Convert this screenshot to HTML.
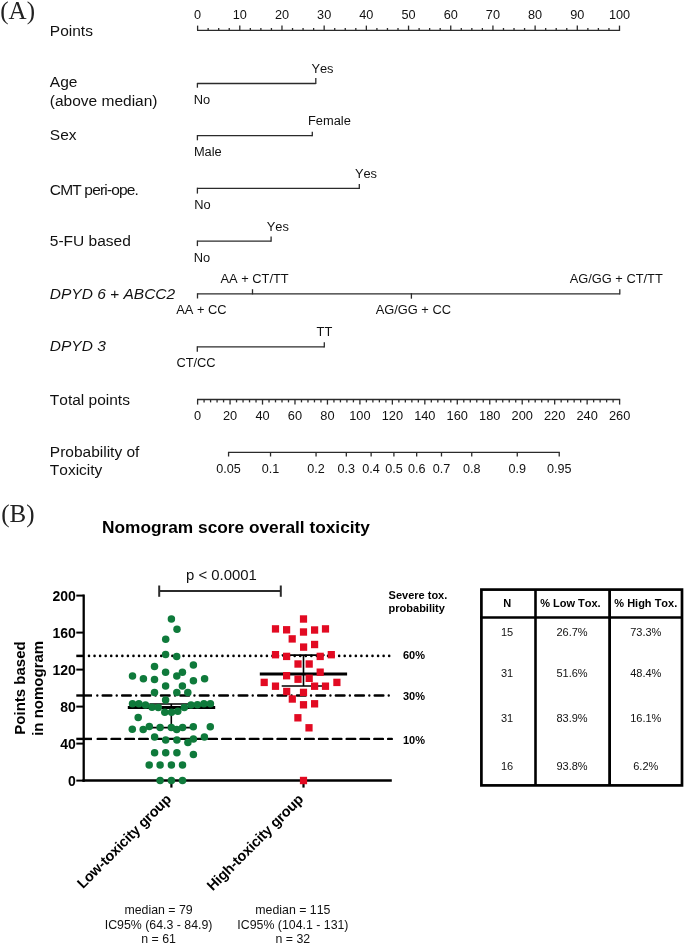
<!DOCTYPE html>
<html><head><meta charset="utf-8"><title>Nomogram</title>
<style>html,body{margin:0;padding:0;background:#fff;} svg{display:block;will-change:transform;} text{font-kerning:none;}</style></head>
<body><svg width="685" height="945" viewBox="0 0 685 945">
<rect width="685" height="945" fill="#fff"/>
<text x="0.30" y="18.70" font-family="Liberation Serif, serif" font-size="25" font-weight="normal" font-style="normal" text-anchor="start" fill="#222" >(A)</text>
<text x="49.80" y="35.90" font-family="Liberation Sans, sans-serif" font-size="15.5" font-weight="normal" font-style="normal" text-anchor="start" fill="#111" >Points</text>
<text x="49.80" y="87.30" font-family="Liberation Sans, sans-serif" font-size="15.5" font-weight="normal" font-style="normal" text-anchor="start" fill="#111" >Age</text>
<text x="49.80" y="105.60" font-family="Liberation Sans, sans-serif" font-size="15.5" font-weight="normal" font-style="normal" text-anchor="start" fill="#111" >(above median)</text>
<text x="49.80" y="139.90" font-family="Liberation Sans, sans-serif" font-size="15.5" font-weight="normal" font-style="normal" text-anchor="start" fill="#111" >Sex</text>
<text x="49.80" y="194.60" font-family="Liberation Sans, sans-serif" font-size="15.5" font-weight="normal" font-style="normal" text-anchor="start" fill="#111" letter-spacing="-0.83">CMT peri-ope.</text>
<text x="49.80" y="246.00" font-family="Liberation Sans, sans-serif" font-size="15.5" font-weight="normal" font-style="normal" text-anchor="start" fill="#111" >5-FU based</text>
<text x="49.80" y="298.60" font-family="Liberation Sans, sans-serif" font-size="15.5" font-weight="normal" font-style="italic" text-anchor="start" fill="#111" >DPYD 6 + ABCC2</text>
<text x="49.80" y="351.10" font-family="Liberation Sans, sans-serif" font-size="15.5" font-weight="normal" font-style="italic" text-anchor="start" fill="#111" >DPYD 3</text>
<text x="49.80" y="405.00" font-family="Liberation Sans, sans-serif" font-size="15.5" font-weight="normal" font-style="normal" text-anchor="start" fill="#111" >Total points</text>
<text x="49.80" y="456.60" font-family="Liberation Sans, sans-serif" font-size="15.5" font-weight="normal" font-style="normal" text-anchor="start" fill="#111" >Probability of</text>
<text x="49.80" y="475.10" font-family="Liberation Sans, sans-serif" font-size="15.5" font-weight="normal" font-style="normal" text-anchor="start" fill="#111" >Toxicity</text>
<line x1="197.00" y1="30.40" x2="620.10" y2="30.40" stroke="#2b2b2b" stroke-width="1.3" />
<line x1="197.60" y1="30.40" x2="197.60" y2="25.60" stroke="#2b2b2b" stroke-width="1.3" />
<text x="197.60" y="19.30" font-family="Liberation Sans, sans-serif" font-size="12.7" font-weight="normal" font-style="normal" text-anchor="middle" fill="#111" >0</text>
<line x1="208.15" y1="30.40" x2="208.15" y2="28.00" stroke="#2b2b2b" stroke-width="1.3" />
<line x1="218.69" y1="30.40" x2="218.69" y2="28.00" stroke="#2b2b2b" stroke-width="1.3" />
<line x1="229.24" y1="30.40" x2="229.24" y2="28.00" stroke="#2b2b2b" stroke-width="1.3" />
<line x1="239.79" y1="30.40" x2="239.79" y2="25.60" stroke="#2b2b2b" stroke-width="1.3" />
<text x="239.79" y="19.30" font-family="Liberation Sans, sans-serif" font-size="12.7" font-weight="normal" font-style="normal" text-anchor="middle" fill="#111" >10</text>
<line x1="250.34" y1="30.40" x2="250.34" y2="28.00" stroke="#2b2b2b" stroke-width="1.3" />
<line x1="260.88" y1="30.40" x2="260.88" y2="28.00" stroke="#2b2b2b" stroke-width="1.3" />
<line x1="271.43" y1="30.40" x2="271.43" y2="28.00" stroke="#2b2b2b" stroke-width="1.3" />
<line x1="281.98" y1="30.40" x2="281.98" y2="25.60" stroke="#2b2b2b" stroke-width="1.3" />
<text x="281.98" y="19.30" font-family="Liberation Sans, sans-serif" font-size="12.7" font-weight="normal" font-style="normal" text-anchor="middle" fill="#111" >20</text>
<line x1="292.53" y1="30.40" x2="292.53" y2="28.00" stroke="#2b2b2b" stroke-width="1.3" />
<line x1="303.07" y1="30.40" x2="303.07" y2="28.00" stroke="#2b2b2b" stroke-width="1.3" />
<line x1="313.62" y1="30.40" x2="313.62" y2="28.00" stroke="#2b2b2b" stroke-width="1.3" />
<line x1="324.17" y1="30.40" x2="324.17" y2="25.60" stroke="#2b2b2b" stroke-width="1.3" />
<text x="324.17" y="19.30" font-family="Liberation Sans, sans-serif" font-size="12.7" font-weight="normal" font-style="normal" text-anchor="middle" fill="#111" >30</text>
<line x1="334.72" y1="30.40" x2="334.72" y2="28.00" stroke="#2b2b2b" stroke-width="1.3" />
<line x1="345.26" y1="30.40" x2="345.26" y2="28.00" stroke="#2b2b2b" stroke-width="1.3" />
<line x1="355.81" y1="30.40" x2="355.81" y2="28.00" stroke="#2b2b2b" stroke-width="1.3" />
<line x1="366.36" y1="30.40" x2="366.36" y2="25.60" stroke="#2b2b2b" stroke-width="1.3" />
<text x="366.36" y="19.30" font-family="Liberation Sans, sans-serif" font-size="12.7" font-weight="normal" font-style="normal" text-anchor="middle" fill="#111" >40</text>
<line x1="376.91" y1="30.40" x2="376.91" y2="28.00" stroke="#2b2b2b" stroke-width="1.3" />
<line x1="387.45" y1="30.40" x2="387.45" y2="28.00" stroke="#2b2b2b" stroke-width="1.3" />
<line x1="398.00" y1="30.40" x2="398.00" y2="28.00" stroke="#2b2b2b" stroke-width="1.3" />
<line x1="408.55" y1="30.40" x2="408.55" y2="25.60" stroke="#2b2b2b" stroke-width="1.3" />
<text x="408.55" y="19.30" font-family="Liberation Sans, sans-serif" font-size="12.7" font-weight="normal" font-style="normal" text-anchor="middle" fill="#111" >50</text>
<line x1="419.10" y1="30.40" x2="419.10" y2="28.00" stroke="#2b2b2b" stroke-width="1.3" />
<line x1="429.64" y1="30.40" x2="429.64" y2="28.00" stroke="#2b2b2b" stroke-width="1.3" />
<line x1="440.19" y1="30.40" x2="440.19" y2="28.00" stroke="#2b2b2b" stroke-width="1.3" />
<line x1="450.74" y1="30.40" x2="450.74" y2="25.60" stroke="#2b2b2b" stroke-width="1.3" />
<text x="450.74" y="19.30" font-family="Liberation Sans, sans-serif" font-size="12.7" font-weight="normal" font-style="normal" text-anchor="middle" fill="#111" >60</text>
<line x1="461.29" y1="30.40" x2="461.29" y2="28.00" stroke="#2b2b2b" stroke-width="1.3" />
<line x1="471.84" y1="30.40" x2="471.84" y2="28.00" stroke="#2b2b2b" stroke-width="1.3" />
<line x1="482.38" y1="30.40" x2="482.38" y2="28.00" stroke="#2b2b2b" stroke-width="1.3" />
<line x1="492.93" y1="30.40" x2="492.93" y2="25.60" stroke="#2b2b2b" stroke-width="1.3" />
<text x="492.93" y="19.30" font-family="Liberation Sans, sans-serif" font-size="12.7" font-weight="normal" font-style="normal" text-anchor="middle" fill="#111" >70</text>
<line x1="503.48" y1="30.40" x2="503.48" y2="28.00" stroke="#2b2b2b" stroke-width="1.3" />
<line x1="514.02" y1="30.40" x2="514.02" y2="28.00" stroke="#2b2b2b" stroke-width="1.3" />
<line x1="524.57" y1="30.40" x2="524.57" y2="28.00" stroke="#2b2b2b" stroke-width="1.3" />
<line x1="535.12" y1="30.40" x2="535.12" y2="25.60" stroke="#2b2b2b" stroke-width="1.3" />
<text x="535.12" y="19.30" font-family="Liberation Sans, sans-serif" font-size="12.7" font-weight="normal" font-style="normal" text-anchor="middle" fill="#111" >80</text>
<line x1="545.67" y1="30.40" x2="545.67" y2="28.00" stroke="#2b2b2b" stroke-width="1.3" />
<line x1="556.22" y1="30.40" x2="556.22" y2="28.00" stroke="#2b2b2b" stroke-width="1.3" />
<line x1="566.76" y1="30.40" x2="566.76" y2="28.00" stroke="#2b2b2b" stroke-width="1.3" />
<line x1="577.31" y1="30.40" x2="577.31" y2="25.60" stroke="#2b2b2b" stroke-width="1.3" />
<text x="577.31" y="19.30" font-family="Liberation Sans, sans-serif" font-size="12.7" font-weight="normal" font-style="normal" text-anchor="middle" fill="#111" >90</text>
<line x1="587.86" y1="30.40" x2="587.86" y2="28.00" stroke="#2b2b2b" stroke-width="1.3" />
<line x1="598.40" y1="30.40" x2="598.40" y2="28.00" stroke="#2b2b2b" stroke-width="1.3" />
<line x1="608.95" y1="30.40" x2="608.95" y2="28.00" stroke="#2b2b2b" stroke-width="1.3" />
<line x1="619.50" y1="30.40" x2="619.50" y2="25.60" stroke="#2b2b2b" stroke-width="1.3" />
<text x="619.50" y="19.30" font-family="Liberation Sans, sans-serif" font-size="12.7" font-weight="normal" font-style="normal" text-anchor="middle" fill="#111" >100</text>
<line x1="197.40" y1="83.50" x2="315.80" y2="83.50" stroke="#2b2b2b" stroke-width="1.3" />
<line x1="197.40" y1="82.90" x2="197.40" y2="87.70" stroke="#2b2b2b" stroke-width="1.3" />
<line x1="315.80" y1="84.10" x2="315.80" y2="77.90" stroke="#2b2b2b" stroke-width="1.3" />
<text x="311.40" y="72.50" font-family="Liberation Sans, sans-serif" font-size="12.85" font-weight="normal" font-style="normal" text-anchor="start" fill="#111" >Yes</text>
<text x="193.80" y="103.60" font-family="Liberation Sans, sans-serif" font-size="12.85" font-weight="normal" font-style="normal" text-anchor="start" fill="#111" >No</text>
<line x1="197.40" y1="135.60" x2="312.30" y2="135.60" stroke="#2b2b2b" stroke-width="1.3" />
<line x1="197.40" y1="135.00" x2="197.40" y2="140.30" stroke="#2b2b2b" stroke-width="1.3" />
<line x1="312.30" y1="136.20" x2="312.30" y2="131.80" stroke="#2b2b2b" stroke-width="1.3" />
<text x="308.00" y="124.90" font-family="Liberation Sans, sans-serif" font-size="12.85" font-weight="normal" font-style="normal" text-anchor="start" fill="#111" >Female</text>
<text x="193.90" y="156.40" font-family="Liberation Sans, sans-serif" font-size="12.85" font-weight="normal" font-style="normal" text-anchor="start" fill="#111" >Male</text>
<line x1="197.40" y1="188.30" x2="359.30" y2="188.30" stroke="#2b2b2b" stroke-width="1.3" />
<line x1="197.40" y1="187.70" x2="197.40" y2="193.60" stroke="#2b2b2b" stroke-width="1.3" />
<line x1="359.30" y1="188.90" x2="359.30" y2="183.90" stroke="#2b2b2b" stroke-width="1.3" />
<text x="354.90" y="178.10" font-family="Liberation Sans, sans-serif" font-size="12.85" font-weight="normal" font-style="normal" text-anchor="start" fill="#111" >Yes</text>
<text x="194.20" y="209.00" font-family="Liberation Sans, sans-serif" font-size="12.85" font-weight="normal" font-style="normal" text-anchor="start" fill="#111" >No</text>
<line x1="197.40" y1="241.10" x2="271.10" y2="241.10" stroke="#2b2b2b" stroke-width="1.3" />
<line x1="197.40" y1="240.50" x2="197.40" y2="246.10" stroke="#2b2b2b" stroke-width="1.3" />
<line x1="271.10" y1="241.70" x2="271.10" y2="236.50" stroke="#2b2b2b" stroke-width="1.3" />
<text x="266.70" y="230.50" font-family="Liberation Sans, sans-serif" font-size="12.85" font-weight="normal" font-style="normal" text-anchor="start" fill="#111" >Yes</text>
<text x="193.70" y="261.50" font-family="Liberation Sans, sans-serif" font-size="12.85" font-weight="normal" font-style="normal" text-anchor="start" fill="#111" >No</text>
<line x1="197.50" y1="293.80" x2="619.80" y2="293.80" stroke="#2b2b2b" stroke-width="1.3" />
<line x1="197.50" y1="293.20" x2="197.50" y2="298.50" stroke="#2b2b2b" stroke-width="1.3" />
<line x1="252.50" y1="294.40" x2="252.50" y2="289.20" stroke="#2b2b2b" stroke-width="1.3" />
<line x1="411.40" y1="293.20" x2="411.40" y2="298.70" stroke="#2b2b2b" stroke-width="1.3" />
<line x1="619.80" y1="294.40" x2="619.80" y2="289.20" stroke="#2b2b2b" stroke-width="1.3" />
<text x="220.50" y="283.00" font-family="Liberation Sans, sans-serif" font-size="12.85" font-weight="normal" font-style="normal" text-anchor="start" fill="#111" >AA + CT/TT</text>
<text x="176.20" y="314.30" font-family="Liberation Sans, sans-serif" font-size="12.85" font-weight="normal" font-style="normal" text-anchor="start" fill="#111" >AA + CC</text>
<text x="375.70" y="314.20" font-family="Liberation Sans, sans-serif" font-size="12.85" font-weight="normal" font-style="normal" text-anchor="start" fill="#111" >AG/GG + CC</text>
<text x="569.70" y="282.90" font-family="Liberation Sans, sans-serif" font-size="12.85" font-weight="normal" font-style="normal" text-anchor="start" fill="#111" >AG/GG + CT/TT</text>
<line x1="197.30" y1="346.80" x2="324.30" y2="346.80" stroke="#2b2b2b" stroke-width="1.3" />
<line x1="197.30" y1="346.20" x2="197.30" y2="351.70" stroke="#2b2b2b" stroke-width="1.3" />
<line x1="324.30" y1="347.40" x2="324.30" y2="342.30" stroke="#2b2b2b" stroke-width="1.3" />
<text x="316.60" y="335.60" font-family="Liberation Sans, sans-serif" font-size="12.85" font-weight="normal" font-style="normal" text-anchor="start" fill="#111" >TT</text>
<text x="176.40" y="367.10" font-family="Liberation Sans, sans-serif" font-size="12.85" font-weight="normal" font-style="normal" text-anchor="start" fill="#111" >CT/CC</text>
<line x1="197.00" y1="399.50" x2="620.20" y2="399.50" stroke="#2b2b2b" stroke-width="1.3" />
<line x1="197.60" y1="399.50" x2="197.60" y2="404.60" stroke="#2b2b2b" stroke-width="1.3" />
<text x="197.60" y="420.00" font-family="Liberation Sans, sans-serif" font-size="12.8" font-weight="normal" font-style="normal" text-anchor="middle" fill="#111" >0</text>
<line x1="204.09" y1="399.50" x2="204.09" y2="402.40" stroke="#2b2b2b" stroke-width="1.3" />
<line x1="210.58" y1="399.50" x2="210.58" y2="402.40" stroke="#2b2b2b" stroke-width="1.3" />
<line x1="217.08" y1="399.50" x2="217.08" y2="402.40" stroke="#2b2b2b" stroke-width="1.3" />
<line x1="223.57" y1="399.50" x2="223.57" y2="402.40" stroke="#2b2b2b" stroke-width="1.3" />
<line x1="230.06" y1="399.50" x2="230.06" y2="404.60" stroke="#2b2b2b" stroke-width="1.3" />
<text x="230.06" y="420.00" font-family="Liberation Sans, sans-serif" font-size="12.8" font-weight="normal" font-style="normal" text-anchor="middle" fill="#111" >20</text>
<line x1="236.55" y1="399.50" x2="236.55" y2="402.40" stroke="#2b2b2b" stroke-width="1.3" />
<line x1="243.05" y1="399.50" x2="243.05" y2="402.40" stroke="#2b2b2b" stroke-width="1.3" />
<line x1="249.54" y1="399.50" x2="249.54" y2="402.40" stroke="#2b2b2b" stroke-width="1.3" />
<line x1="256.03" y1="399.50" x2="256.03" y2="402.40" stroke="#2b2b2b" stroke-width="1.3" />
<line x1="262.52" y1="399.50" x2="262.52" y2="404.60" stroke="#2b2b2b" stroke-width="1.3" />
<text x="262.52" y="420.00" font-family="Liberation Sans, sans-serif" font-size="12.8" font-weight="normal" font-style="normal" text-anchor="middle" fill="#111" >40</text>
<line x1="269.02" y1="399.50" x2="269.02" y2="402.40" stroke="#2b2b2b" stroke-width="1.3" />
<line x1="275.51" y1="399.50" x2="275.51" y2="402.40" stroke="#2b2b2b" stroke-width="1.3" />
<line x1="282.00" y1="399.50" x2="282.00" y2="402.40" stroke="#2b2b2b" stroke-width="1.3" />
<line x1="288.49" y1="399.50" x2="288.49" y2="402.40" stroke="#2b2b2b" stroke-width="1.3" />
<line x1="294.98" y1="399.50" x2="294.98" y2="404.60" stroke="#2b2b2b" stroke-width="1.3" />
<text x="294.98" y="420.00" font-family="Liberation Sans, sans-serif" font-size="12.8" font-weight="normal" font-style="normal" text-anchor="middle" fill="#111" >60</text>
<line x1="301.48" y1="399.50" x2="301.48" y2="402.40" stroke="#2b2b2b" stroke-width="1.3" />
<line x1="307.97" y1="399.50" x2="307.97" y2="402.40" stroke="#2b2b2b" stroke-width="1.3" />
<line x1="314.46" y1="399.50" x2="314.46" y2="402.40" stroke="#2b2b2b" stroke-width="1.3" />
<line x1="320.95" y1="399.50" x2="320.95" y2="402.40" stroke="#2b2b2b" stroke-width="1.3" />
<line x1="327.45" y1="399.50" x2="327.45" y2="404.60" stroke="#2b2b2b" stroke-width="1.3" />
<text x="327.45" y="420.00" font-family="Liberation Sans, sans-serif" font-size="12.8" font-weight="normal" font-style="normal" text-anchor="middle" fill="#111" >80</text>
<line x1="333.94" y1="399.50" x2="333.94" y2="402.40" stroke="#2b2b2b" stroke-width="1.3" />
<line x1="340.43" y1="399.50" x2="340.43" y2="402.40" stroke="#2b2b2b" stroke-width="1.3" />
<line x1="346.92" y1="399.50" x2="346.92" y2="402.40" stroke="#2b2b2b" stroke-width="1.3" />
<line x1="353.42" y1="399.50" x2="353.42" y2="402.40" stroke="#2b2b2b" stroke-width="1.3" />
<line x1="359.91" y1="399.50" x2="359.91" y2="404.60" stroke="#2b2b2b" stroke-width="1.3" />
<text x="359.91" y="420.00" font-family="Liberation Sans, sans-serif" font-size="12.8" font-weight="normal" font-style="normal" text-anchor="middle" fill="#111" >100</text>
<line x1="366.40" y1="399.50" x2="366.40" y2="402.40" stroke="#2b2b2b" stroke-width="1.3" />
<line x1="372.89" y1="399.50" x2="372.89" y2="402.40" stroke="#2b2b2b" stroke-width="1.3" />
<line x1="379.38" y1="399.50" x2="379.38" y2="402.40" stroke="#2b2b2b" stroke-width="1.3" />
<line x1="385.88" y1="399.50" x2="385.88" y2="402.40" stroke="#2b2b2b" stroke-width="1.3" />
<line x1="392.37" y1="399.50" x2="392.37" y2="404.60" stroke="#2b2b2b" stroke-width="1.3" />
<text x="392.37" y="420.00" font-family="Liberation Sans, sans-serif" font-size="12.8" font-weight="normal" font-style="normal" text-anchor="middle" fill="#111" >120</text>
<line x1="398.86" y1="399.50" x2="398.86" y2="402.40" stroke="#2b2b2b" stroke-width="1.3" />
<line x1="405.35" y1="399.50" x2="405.35" y2="402.40" stroke="#2b2b2b" stroke-width="1.3" />
<line x1="411.85" y1="399.50" x2="411.85" y2="402.40" stroke="#2b2b2b" stroke-width="1.3" />
<line x1="418.34" y1="399.50" x2="418.34" y2="402.40" stroke="#2b2b2b" stroke-width="1.3" />
<line x1="424.83" y1="399.50" x2="424.83" y2="404.60" stroke="#2b2b2b" stroke-width="1.3" />
<text x="424.83" y="420.00" font-family="Liberation Sans, sans-serif" font-size="12.8" font-weight="normal" font-style="normal" text-anchor="middle" fill="#111" >140</text>
<line x1="431.32" y1="399.50" x2="431.32" y2="402.40" stroke="#2b2b2b" stroke-width="1.3" />
<line x1="437.82" y1="399.50" x2="437.82" y2="402.40" stroke="#2b2b2b" stroke-width="1.3" />
<line x1="444.31" y1="399.50" x2="444.31" y2="402.40" stroke="#2b2b2b" stroke-width="1.3" />
<line x1="450.80" y1="399.50" x2="450.80" y2="402.40" stroke="#2b2b2b" stroke-width="1.3" />
<line x1="457.29" y1="399.50" x2="457.29" y2="404.60" stroke="#2b2b2b" stroke-width="1.3" />
<text x="457.29" y="420.00" font-family="Liberation Sans, sans-serif" font-size="12.8" font-weight="normal" font-style="normal" text-anchor="middle" fill="#111" >160</text>
<line x1="463.78" y1="399.50" x2="463.78" y2="402.40" stroke="#2b2b2b" stroke-width="1.3" />
<line x1="470.28" y1="399.50" x2="470.28" y2="402.40" stroke="#2b2b2b" stroke-width="1.3" />
<line x1="476.77" y1="399.50" x2="476.77" y2="402.40" stroke="#2b2b2b" stroke-width="1.3" />
<line x1="483.26" y1="399.50" x2="483.26" y2="402.40" stroke="#2b2b2b" stroke-width="1.3" />
<line x1="489.75" y1="399.50" x2="489.75" y2="404.60" stroke="#2b2b2b" stroke-width="1.3" />
<text x="489.75" y="420.00" font-family="Liberation Sans, sans-serif" font-size="12.8" font-weight="normal" font-style="normal" text-anchor="middle" fill="#111" >180</text>
<line x1="496.25" y1="399.50" x2="496.25" y2="402.40" stroke="#2b2b2b" stroke-width="1.3" />
<line x1="502.74" y1="399.50" x2="502.74" y2="402.40" stroke="#2b2b2b" stroke-width="1.3" />
<line x1="509.23" y1="399.50" x2="509.23" y2="402.40" stroke="#2b2b2b" stroke-width="1.3" />
<line x1="515.72" y1="399.50" x2="515.72" y2="402.40" stroke="#2b2b2b" stroke-width="1.3" />
<line x1="522.22" y1="399.50" x2="522.22" y2="404.60" stroke="#2b2b2b" stroke-width="1.3" />
<text x="522.22" y="420.00" font-family="Liberation Sans, sans-serif" font-size="12.8" font-weight="normal" font-style="normal" text-anchor="middle" fill="#111" >200</text>
<line x1="528.71" y1="399.50" x2="528.71" y2="402.40" stroke="#2b2b2b" stroke-width="1.3" />
<line x1="535.20" y1="399.50" x2="535.20" y2="402.40" stroke="#2b2b2b" stroke-width="1.3" />
<line x1="541.69" y1="399.50" x2="541.69" y2="402.40" stroke="#2b2b2b" stroke-width="1.3" />
<line x1="548.18" y1="399.50" x2="548.18" y2="402.40" stroke="#2b2b2b" stroke-width="1.3" />
<line x1="554.68" y1="399.50" x2="554.68" y2="404.60" stroke="#2b2b2b" stroke-width="1.3" />
<text x="554.68" y="420.00" font-family="Liberation Sans, sans-serif" font-size="12.8" font-weight="normal" font-style="normal" text-anchor="middle" fill="#111" >220</text>
<line x1="561.17" y1="399.50" x2="561.17" y2="402.40" stroke="#2b2b2b" stroke-width="1.3" />
<line x1="567.66" y1="399.50" x2="567.66" y2="402.40" stroke="#2b2b2b" stroke-width="1.3" />
<line x1="574.15" y1="399.50" x2="574.15" y2="402.40" stroke="#2b2b2b" stroke-width="1.3" />
<line x1="580.65" y1="399.50" x2="580.65" y2="402.40" stroke="#2b2b2b" stroke-width="1.3" />
<line x1="587.14" y1="399.50" x2="587.14" y2="404.60" stroke="#2b2b2b" stroke-width="1.3" />
<text x="587.14" y="420.00" font-family="Liberation Sans, sans-serif" font-size="12.8" font-weight="normal" font-style="normal" text-anchor="middle" fill="#111" >240</text>
<line x1="593.63" y1="399.50" x2="593.63" y2="402.40" stroke="#2b2b2b" stroke-width="1.3" />
<line x1="600.12" y1="399.50" x2="600.12" y2="402.40" stroke="#2b2b2b" stroke-width="1.3" />
<line x1="606.62" y1="399.50" x2="606.62" y2="402.40" stroke="#2b2b2b" stroke-width="1.3" />
<line x1="613.11" y1="399.50" x2="613.11" y2="402.40" stroke="#2b2b2b" stroke-width="1.3" />
<line x1="619.60" y1="399.50" x2="619.60" y2="404.60" stroke="#2b2b2b" stroke-width="1.3" />
<text x="619.60" y="420.00" font-family="Liberation Sans, sans-serif" font-size="12.8" font-weight="normal" font-style="normal" text-anchor="middle" fill="#111" >260</text>
<line x1="227.97" y1="452.30" x2="559.83" y2="452.30" stroke="#2b2b2b" stroke-width="1.3" />
<line x1="228.57" y1="452.30" x2="228.57" y2="456.50" stroke="#2b2b2b" stroke-width="1.3" />
<text x="228.57" y="473.20" font-family="Liberation Sans, sans-serif" font-size="12.6" font-weight="normal" font-style="normal" text-anchor="middle" fill="#111" >0.05</text>
<line x1="270.53" y1="452.30" x2="270.53" y2="456.50" stroke="#2b2b2b" stroke-width="1.3" />
<text x="270.53" y="473.20" font-family="Liberation Sans, sans-serif" font-size="12.6" font-weight="normal" font-style="normal" text-anchor="middle" fill="#111" >0.1</text>
<line x1="316.06" y1="452.30" x2="316.06" y2="456.50" stroke="#2b2b2b" stroke-width="1.3" />
<text x="316.06" y="473.20" font-family="Liberation Sans, sans-serif" font-size="12.6" font-weight="normal" font-style="normal" text-anchor="middle" fill="#111" >0.2</text>
<line x1="346.32" y1="452.30" x2="346.32" y2="456.50" stroke="#2b2b2b" stroke-width="1.3" />
<text x="346.32" y="473.20" font-family="Liberation Sans, sans-serif" font-size="12.6" font-weight="normal" font-style="normal" text-anchor="middle" fill="#111" >0.3</text>
<line x1="371.13" y1="452.30" x2="371.13" y2="456.50" stroke="#2b2b2b" stroke-width="1.3" />
<text x="371.13" y="473.20" font-family="Liberation Sans, sans-serif" font-size="12.6" font-weight="normal" font-style="normal" text-anchor="middle" fill="#111" >0.4</text>
<line x1="393.90" y1="452.30" x2="393.90" y2="456.50" stroke="#2b2b2b" stroke-width="1.3" />
<text x="393.90" y="473.20" font-family="Liberation Sans, sans-serif" font-size="12.6" font-weight="normal" font-style="normal" text-anchor="middle" fill="#111" >0.5</text>
<line x1="416.67" y1="452.30" x2="416.67" y2="456.50" stroke="#2b2b2b" stroke-width="1.3" />
<text x="416.67" y="473.20" font-family="Liberation Sans, sans-serif" font-size="12.6" font-weight="normal" font-style="normal" text-anchor="middle" fill="#111" >0.6</text>
<line x1="441.48" y1="452.30" x2="441.48" y2="456.50" stroke="#2b2b2b" stroke-width="1.3" />
<text x="441.48" y="473.20" font-family="Liberation Sans, sans-serif" font-size="12.6" font-weight="normal" font-style="normal" text-anchor="middle" fill="#111" >0.7</text>
<line x1="471.74" y1="452.30" x2="471.74" y2="456.50" stroke="#2b2b2b" stroke-width="1.3" />
<text x="471.74" y="473.20" font-family="Liberation Sans, sans-serif" font-size="12.6" font-weight="normal" font-style="normal" text-anchor="middle" fill="#111" >0.8</text>
<line x1="517.27" y1="452.30" x2="517.27" y2="456.50" stroke="#2b2b2b" stroke-width="1.3" />
<text x="517.27" y="473.20" font-family="Liberation Sans, sans-serif" font-size="12.6" font-weight="normal" font-style="normal" text-anchor="middle" fill="#111" >0.9</text>
<line x1="559.23" y1="452.30" x2="559.23" y2="456.50" stroke="#2b2b2b" stroke-width="1.3" />
<text x="559.23" y="473.20" font-family="Liberation Sans, sans-serif" font-size="12.6" font-weight="normal" font-style="normal" text-anchor="middle" fill="#111" >0.95</text>
<text x="1.20" y="521.70" font-family="Liberation Serif, serif" font-size="25" font-weight="normal" font-style="normal" text-anchor="start" fill="#222" >(B)</text>
<text x="102.00" y="533.00" font-family="Liberation Sans, sans-serif" font-size="17.3" font-weight="bold" font-style="normal" text-anchor="start" fill="#000" >Nomogram score overall toxicity</text>
<text x="186.00" y="579.80" font-family="Liberation Sans, sans-serif" font-size="14.9" font-weight="normal" font-style="normal" text-anchor="start" fill="#111" >p &lt; 0.0001</text>
<line x1="159.20" y1="591.10" x2="280.80" y2="591.10" stroke="#2b2b2b" stroke-width="2" />
<line x1="159.20" y1="585.50" x2="159.20" y2="596.80" stroke="#2b2b2b" stroke-width="2" />
<line x1="280.80" y1="585.50" x2="280.80" y2="596.80" stroke="#2b2b2b" stroke-width="2" />
<line x1="76.30" y1="655.90" x2="83.50" y2="655.90" stroke="#000" stroke-width="2.5" />
<line x1="89.00" y1="655.90" x2="389.30" y2="655.90" stroke="#000" stroke-width="2.6" stroke-dasharray="0 5.559" stroke-linecap="round"/>
<line x1="76.30" y1="695.50" x2="92.00" y2="695.50" stroke="#000" stroke-width="2.4" />
<line x1="97.30" y1="695.50" x2="388.80" y2="695.50" stroke="#000" stroke-width="2.4" stroke-dasharray="0 5.36 8.7 5.37" stroke-linecap="round"/>
<line x1="76.30" y1="738.90" x2="92.00" y2="738.90" stroke="#000" stroke-width="2.4" />
<line x1="97.70" y1="738.90" x2="391.80" y2="738.90" stroke="#000" stroke-width="2.4" stroke-dasharray="8.6 5.23" stroke-linecap="round"/>
<line x1="83.70" y1="594.50" x2="83.70" y2="781.80" stroke="#000" stroke-width="2.3" />
<line x1="82.50" y1="780.50" x2="391.80" y2="780.50" stroke="#000" stroke-width="2.5" />
<line x1="76.30" y1="780.60" x2="83.70" y2="780.60" stroke="#000" stroke-width="2" />
<text x="75.80" y="785.60" font-family="Liberation Sans, sans-serif" font-size="14" font-weight="bold" font-style="normal" text-anchor="end" fill="#000" >0</text>
<line x1="76.30" y1="743.60" x2="83.70" y2="743.60" stroke="#000" stroke-width="2" />
<text x="75.80" y="748.60" font-family="Liberation Sans, sans-serif" font-size="14" font-weight="bold" font-style="normal" text-anchor="end" fill="#000" >40</text>
<line x1="76.30" y1="706.60" x2="83.70" y2="706.60" stroke="#000" stroke-width="2" />
<text x="75.80" y="711.60" font-family="Liberation Sans, sans-serif" font-size="14" font-weight="bold" font-style="normal" text-anchor="end" fill="#000" >80</text>
<line x1="76.30" y1="669.60" x2="83.70" y2="669.60" stroke="#000" stroke-width="2" />
<text x="75.80" y="674.60" font-family="Liberation Sans, sans-serif" font-size="14" font-weight="bold" font-style="normal" text-anchor="end" fill="#000" >120</text>
<line x1="76.30" y1="632.60" x2="83.70" y2="632.60" stroke="#000" stroke-width="2" />
<text x="75.80" y="637.60" font-family="Liberation Sans, sans-serif" font-size="14" font-weight="bold" font-style="normal" text-anchor="end" fill="#000" >160</text>
<line x1="76.30" y1="595.60" x2="83.70" y2="595.60" stroke="#000" stroke-width="2" />
<text x="75.80" y="600.60" font-family="Liberation Sans, sans-serif" font-size="14" font-weight="bold" font-style="normal" text-anchor="end" fill="#000" >200</text>
<line x1="171.40" y1="780.50" x2="171.40" y2="787.60" stroke="#000" stroke-width="2.2" />
<line x1="303.50" y1="780.50" x2="303.50" y2="787.60" stroke="#000" stroke-width="2.2" />
<text transform="translate(25.0,688.0) rotate(-90)" font-family="Liberation Sans, sans-serif" font-size="15" font-weight="bold" text-anchor="middle" fill="#000">Points based</text>
<text transform="translate(43.1,688.3) rotate(-90)" font-family="Liberation Sans, sans-serif" font-size="15" font-weight="bold" text-anchor="middle" fill="#000">in nomogram</text>
<text x="388.60" y="599.10" font-family="Liberation Sans, sans-serif" font-size="11" font-weight="bold" font-style="normal" text-anchor="start" fill="#000" >Severe tox.</text>
<text x="388.60" y="612.40" font-family="Liberation Sans, sans-serif" font-size="11" font-weight="bold" font-style="normal" text-anchor="start" fill="#000" >probability</text>
<text x="403.00" y="659.10" font-family="Liberation Sans, sans-serif" font-size="11" font-weight="bold" font-style="normal" text-anchor="start" fill="#000" >60%</text>
<text x="403.00" y="699.70" font-family="Liberation Sans, sans-serif" font-size="11" font-weight="bold" font-style="normal" text-anchor="start" fill="#000" >30%</text>
<text x="403.00" y="743.90" font-family="Liberation Sans, sans-serif" font-size="11" font-weight="bold" font-style="normal" text-anchor="start" fill="#000" >10%</text>
<line x1="171.30" y1="704.00" x2="171.30" y2="727.60" stroke="#000" stroke-width="1.6" />
<line x1="149.30" y1="704.00" x2="190.20" y2="704.00" stroke="#000" stroke-width="1.6" />
<line x1="149.30" y1="727.60" x2="190.20" y2="727.60" stroke="#000" stroke-width="1.6" />
<line x1="127.80" y1="707.50" x2="215.20" y2="707.50" stroke="#000" stroke-width="3.0" />
<line x1="303.50" y1="655.10" x2="303.50" y2="686.00" stroke="#000" stroke-width="1.6" />
<line x1="281.70" y1="655.10" x2="324.60" y2="655.10" stroke="#000" stroke-width="1.6" />
<line x1="281.70" y1="686.00" x2="324.60" y2="686.00" stroke="#000" stroke-width="1.6" />
<line x1="259.80" y1="674.10" x2="347.10" y2="674.10" stroke="#000" stroke-width="3.0" />
<circle cx="171.40" cy="619.00" r="3.75" fill="#0f7a3b"/>
<circle cx="177.00" cy="629.20" r="3.75" fill="#0f7a3b"/>
<circle cx="165.70" cy="639.20" r="3.75" fill="#0f7a3b"/>
<circle cx="165.60" cy="654.60" r="3.75" fill="#0f7a3b"/>
<circle cx="176.70" cy="656.50" r="3.75" fill="#0f7a3b"/>
<circle cx="154.50" cy="666.60" r="3.75" fill="#0f7a3b"/>
<circle cx="193.40" cy="664.90" r="3.75" fill="#0f7a3b"/>
<circle cx="165.60" cy="672.30" r="3.75" fill="#0f7a3b"/>
<circle cx="182.40" cy="672.30" r="3.75" fill="#0f7a3b"/>
<circle cx="176.80" cy="676.10" r="3.75" fill="#0f7a3b"/>
<circle cx="132.50" cy="676.10" r="3.75" fill="#0f7a3b"/>
<circle cx="143.40" cy="678.70" r="3.75" fill="#0f7a3b"/>
<circle cx="154.50" cy="679.60" r="3.75" fill="#0f7a3b"/>
<circle cx="193.40" cy="680.70" r="3.75" fill="#0f7a3b"/>
<circle cx="204.60" cy="678.70" r="3.75" fill="#0f7a3b"/>
<circle cx="165.60" cy="686.00" r="3.75" fill="#0f7a3b"/>
<circle cx="182.40" cy="686.00" r="3.75" fill="#0f7a3b"/>
<circle cx="154.50" cy="692.60" r="3.75" fill="#0f7a3b"/>
<circle cx="176.80" cy="692.60" r="3.75" fill="#0f7a3b"/>
<circle cx="187.80" cy="692.60" r="3.75" fill="#0f7a3b"/>
<circle cx="165.60" cy="700.10" r="3.75" fill="#0f7a3b"/>
<circle cx="132.50" cy="703.70" r="3.75" fill="#0f7a3b"/>
<circle cx="138.90" cy="703.70" r="3.75" fill="#0f7a3b"/>
<circle cx="145.50" cy="705.00" r="3.75" fill="#0f7a3b"/>
<circle cx="152.00" cy="707.30" r="3.75" fill="#0f7a3b"/>
<circle cx="158.30" cy="707.60" r="3.75" fill="#0f7a3b"/>
<circle cx="164.80" cy="712.20" r="3.75" fill="#0f7a3b"/>
<circle cx="171.50" cy="712.20" r="3.75" fill="#0f7a3b"/>
<circle cx="177.80" cy="711.30" r="3.75" fill="#0f7a3b"/>
<circle cx="184.30" cy="707.50" r="3.75" fill="#0f7a3b"/>
<circle cx="191.00" cy="705.00" r="3.75" fill="#0f7a3b"/>
<circle cx="197.40" cy="704.80" r="3.75" fill="#0f7a3b"/>
<circle cx="203.90" cy="703.70" r="3.75" fill="#0f7a3b"/>
<circle cx="210.40" cy="703.70" r="3.75" fill="#0f7a3b"/>
<circle cx="138.20" cy="717.50" r="3.75" fill="#0f7a3b"/>
<circle cx="132.30" cy="729.20" r="3.75" fill="#0f7a3b"/>
<circle cx="143.20" cy="729.60" r="3.75" fill="#0f7a3b"/>
<circle cx="149.30" cy="726.60" r="3.75" fill="#0f7a3b"/>
<circle cx="160.10" cy="727.60" r="3.75" fill="#0f7a3b"/>
<circle cx="171.30" cy="727.60" r="3.75" fill="#0f7a3b"/>
<circle cx="176.70" cy="729.60" r="3.75" fill="#0f7a3b"/>
<circle cx="182.60" cy="727.60" r="3.75" fill="#0f7a3b"/>
<circle cx="193.30" cy="726.70" r="3.75" fill="#0f7a3b"/>
<circle cx="210.30" cy="726.70" r="3.75" fill="#0f7a3b"/>
<circle cx="154.60" cy="737.00" r="3.75" fill="#0f7a3b"/>
<circle cx="165.70" cy="739.90" r="3.75" fill="#0f7a3b"/>
<circle cx="176.90" cy="739.90" r="3.75" fill="#0f7a3b"/>
<circle cx="187.90" cy="742.60" r="3.75" fill="#0f7a3b"/>
<circle cx="193.40" cy="738.90" r="3.75" fill="#0f7a3b"/>
<circle cx="204.40" cy="737.00" r="3.75" fill="#0f7a3b"/>
<circle cx="154.60" cy="752.80" r="3.75" fill="#0f7a3b"/>
<circle cx="165.70" cy="752.80" r="3.75" fill="#0f7a3b"/>
<circle cx="176.90" cy="752.80" r="3.75" fill="#0f7a3b"/>
<circle cx="193.40" cy="754.50" r="3.75" fill="#0f7a3b"/>
<circle cx="149.20" cy="764.90" r="3.75" fill="#0f7a3b"/>
<circle cx="160.10" cy="764.90" r="3.75" fill="#0f7a3b"/>
<circle cx="171.40" cy="764.90" r="3.75" fill="#0f7a3b"/>
<circle cx="182.50" cy="764.90" r="3.75" fill="#0f7a3b"/>
<circle cx="160.10" cy="780.50" r="3.75" fill="#0f7a3b"/>
<circle cx="171.40" cy="780.50" r="3.75" fill="#0f7a3b"/>
<circle cx="182.50" cy="780.50" r="3.75" fill="#0f7a3b"/>
<rect x="299.90" y="615.30" width="7.2" height="7.4" fill="#e20a22"/>
<rect x="271.90" y="625.20" width="7.2" height="7.4" fill="#e20a22"/>
<rect x="283.00" y="626.10" width="7.2" height="7.4" fill="#e20a22"/>
<rect x="299.90" y="628.30" width="7.2" height="7.4" fill="#e20a22"/>
<rect x="311.00" y="626.30" width="7.2" height="7.4" fill="#e20a22"/>
<rect x="321.90" y="625.20" width="7.2" height="7.4" fill="#e20a22"/>
<rect x="288.60" y="635.20" width="7.2" height="7.4" fill="#e20a22"/>
<rect x="300.00" y="643.40" width="7.2" height="7.4" fill="#e20a22"/>
<rect x="311.00" y="640.80" width="7.2" height="7.4" fill="#e20a22"/>
<rect x="271.90" y="651.00" width="7.2" height="7.4" fill="#e20a22"/>
<rect x="283.00" y="652.70" width="7.2" height="7.4" fill="#e20a22"/>
<rect x="316.60" y="652.70" width="7.2" height="7.4" fill="#e20a22"/>
<rect x="327.70" y="651.00" width="7.2" height="7.4" fill="#e20a22"/>
<rect x="294.40" y="660.30" width="7.2" height="7.4" fill="#e20a22"/>
<rect x="305.60" y="660.30" width="7.2" height="7.4" fill="#e20a22"/>
<rect x="316.60" y="668.50" width="7.2" height="7.4" fill="#e20a22"/>
<rect x="283.00" y="672.00" width="7.2" height="7.4" fill="#e20a22"/>
<rect x="294.40" y="675.50" width="7.2" height="7.4" fill="#e20a22"/>
<rect x="305.60" y="674.60" width="7.2" height="7.4" fill="#e20a22"/>
<rect x="260.60" y="678.70" width="7.2" height="7.4" fill="#e20a22"/>
<rect x="271.90" y="682.50" width="7.2" height="7.4" fill="#e20a22"/>
<rect x="311.00" y="682.50" width="7.2" height="7.4" fill="#e20a22"/>
<rect x="321.90" y="682.50" width="7.2" height="7.4" fill="#e20a22"/>
<rect x="333.30" y="678.70" width="7.2" height="7.4" fill="#e20a22"/>
<rect x="283.10" y="687.80" width="7.2" height="7.4" fill="#e20a22"/>
<rect x="299.90" y="688.70" width="7.2" height="7.4" fill="#e20a22"/>
<rect x="288.70" y="695.30" width="7.2" height="7.4" fill="#e20a22"/>
<rect x="299.90" y="701.10" width="7.2" height="7.4" fill="#e20a22"/>
<rect x="311.00" y="700.10" width="7.2" height="7.4" fill="#e20a22"/>
<rect x="294.30" y="714.10" width="7.2" height="7.4" fill="#e20a22"/>
<rect x="305.40" y="724.10" width="7.2" height="7.4" fill="#e20a22"/>
<rect x="299.90" y="776.80" width="7.2" height="7.4" fill="#e20a22"/>
<text transform="translate(172.0,800.2) rotate(-45)" font-family="Liberation Sans, sans-serif" font-size="14.4" letter-spacing="-0.15" font-weight="bold" text-anchor="end" fill="#000">Low-toxicity group</text>
<text transform="translate(304.1,800.2) rotate(-45)" font-family="Liberation Sans, sans-serif" font-size="14.4" letter-spacing="-0.15" font-weight="bold" text-anchor="end" fill="#000">High-toxicity group</text>
<text x="158.60" y="913.60" font-family="Liberation Sans, sans-serif" font-size="12.35" font-weight="normal" font-style="normal" text-anchor="middle" fill="#111" >median = 79</text>
<text x="158.60" y="928.90" font-family="Liberation Sans, sans-serif" font-size="12.35" font-weight="normal" font-style="normal" text-anchor="middle" fill="#111" >IC95% (64.3 - 84.9)</text>
<text x="158.60" y="942.70" font-family="Liberation Sans, sans-serif" font-size="12.35" font-weight="normal" font-style="normal" text-anchor="middle" fill="#111" >n = 61</text>
<text x="292.90" y="913.60" font-family="Liberation Sans, sans-serif" font-size="12.35" font-weight="normal" font-style="normal" text-anchor="middle" fill="#111" >median = 115</text>
<text x="292.90" y="928.90" font-family="Liberation Sans, sans-serif" font-size="12.35" font-weight="normal" font-style="normal" text-anchor="middle" fill="#111" >IC95% (104.1 - 131)</text>
<text x="292.90" y="942.70" font-family="Liberation Sans, sans-serif" font-size="12.35" font-weight="normal" font-style="normal" text-anchor="middle" fill="#111" >n = 32</text>
<rect x="481.40" y="589.60" width="200.60" height="195.80" fill="none" stroke="#000" stroke-width="2.7"/>
<line x1="535.50" y1="589.60" x2="535.50" y2="785.40" stroke="#000" stroke-width="2.6" />
<line x1="609.60" y1="589.60" x2="609.60" y2="785.40" stroke="#000" stroke-width="2.8" />
<line x1="480.00" y1="617.50" x2="682.00" y2="617.50" stroke="#000" stroke-width="2.5" />
<text x="507.20" y="607.00" font-family="Liberation Sans, sans-serif" font-size="11" font-weight="bold" font-style="normal" text-anchor="middle" fill="#000" >N</text>
<text x="570.40" y="607.00" font-family="Liberation Sans, sans-serif" font-size="11" font-weight="bold" font-style="normal" text-anchor="middle" fill="#000" >% Low Tox.</text>
<text x="645.80" y="607.00" font-family="Liberation Sans, sans-serif" font-size="11" font-weight="bold" font-style="normal" text-anchor="middle" fill="#000" >% High Tox.</text>
<text x="507.00" y="636.10" font-family="Liberation Sans, sans-serif" font-size="11" font-weight="normal" font-style="normal" text-anchor="middle" fill="#111" >15</text>
<text x="572.00" y="636.10" font-family="Liberation Sans, sans-serif" font-size="11" font-weight="normal" font-style="normal" text-anchor="middle" fill="#111" >26.7%</text>
<text x="645.80" y="636.10" font-family="Liberation Sans, sans-serif" font-size="11" font-weight="normal" font-style="normal" text-anchor="middle" fill="#111" >73.3%</text>
<text x="507.00" y="677.40" font-family="Liberation Sans, sans-serif" font-size="11" font-weight="normal" font-style="normal" text-anchor="middle" fill="#111" >31</text>
<text x="572.00" y="677.40" font-family="Liberation Sans, sans-serif" font-size="11" font-weight="normal" font-style="normal" text-anchor="middle" fill="#111" >51.6%</text>
<text x="645.80" y="677.40" font-family="Liberation Sans, sans-serif" font-size="11" font-weight="normal" font-style="normal" text-anchor="middle" fill="#111" >48.4%</text>
<text x="507.00" y="722.30" font-family="Liberation Sans, sans-serif" font-size="11" font-weight="normal" font-style="normal" text-anchor="middle" fill="#111" >31</text>
<text x="572.00" y="722.30" font-family="Liberation Sans, sans-serif" font-size="11" font-weight="normal" font-style="normal" text-anchor="middle" fill="#111" >83.9%</text>
<text x="645.80" y="722.30" font-family="Liberation Sans, sans-serif" font-size="11" font-weight="normal" font-style="normal" text-anchor="middle" fill="#111" >16.1%</text>
<text x="507.00" y="769.60" font-family="Liberation Sans, sans-serif" font-size="11" font-weight="normal" font-style="normal" text-anchor="middle" fill="#111" >16</text>
<text x="572.00" y="769.60" font-family="Liberation Sans, sans-serif" font-size="11" font-weight="normal" font-style="normal" text-anchor="middle" fill="#111" >93.8%</text>
<text x="645.80" y="769.60" font-family="Liberation Sans, sans-serif" font-size="11" font-weight="normal" font-style="normal" text-anchor="middle" fill="#111" >6.2%</text>
</svg></body></html>
